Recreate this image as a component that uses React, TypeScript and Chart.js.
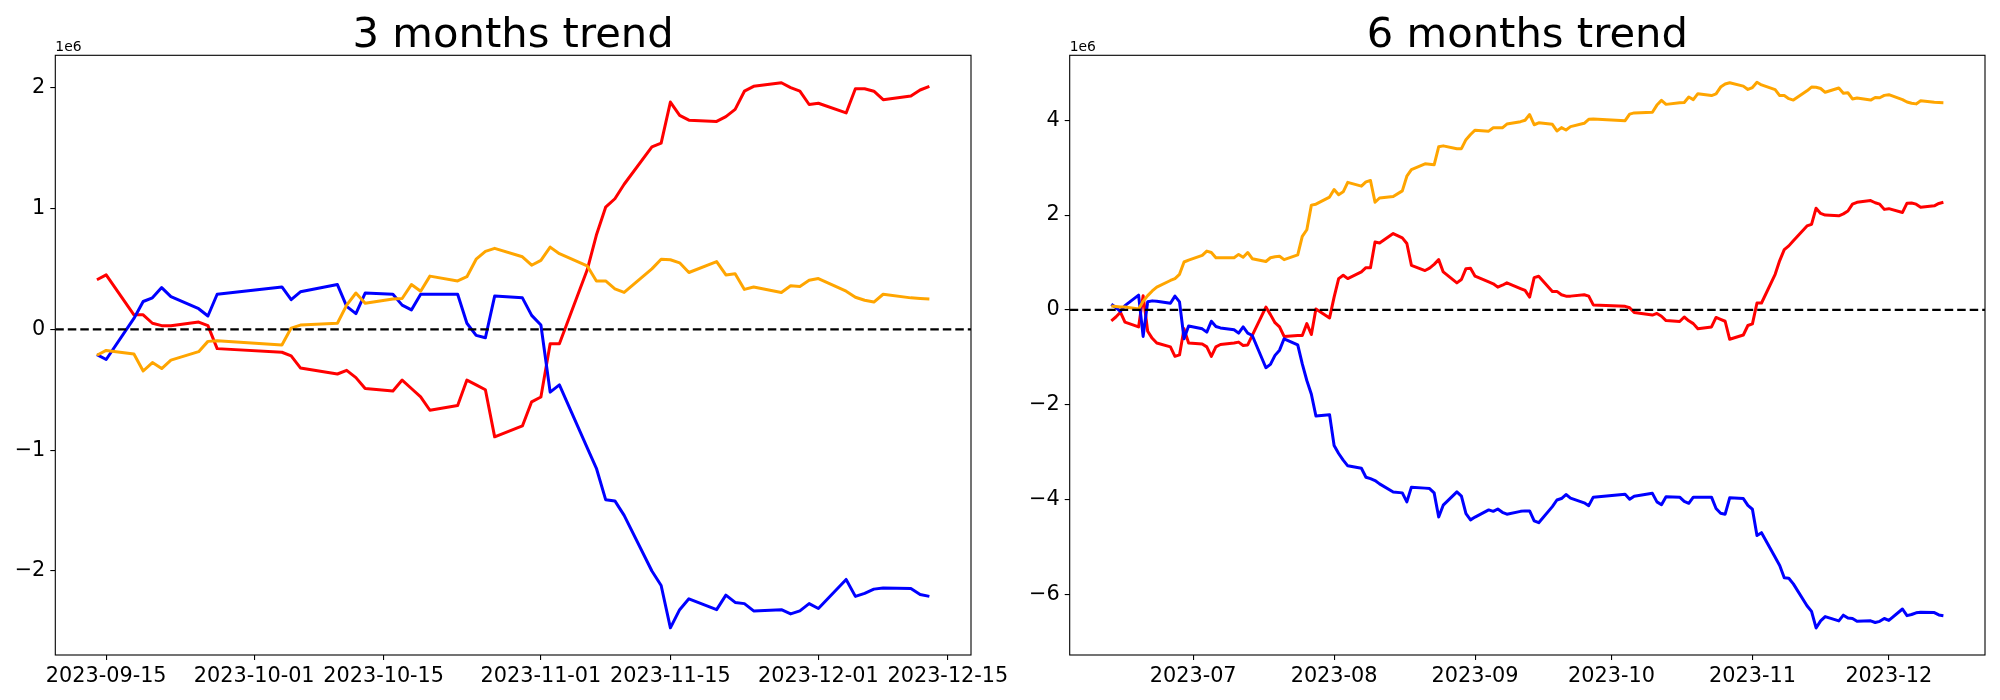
import React, { useEffect, useRef } from 'react';
import { Chart, registerables } from 'chart.js';

Chart.register(...registerables);

const FONT = "'DejaVu Sans', Verdana, sans-serif";

// ---------- 3 months (Korean trading days) ----------
const DATES_3M = [
  '2023-09-14','2023-09-15','2023-09-18','2023-09-19','2023-09-20','2023-09-21','2023-09-22','2023-09-25','2023-09-26','2023-09-27',
  '2023-10-04','2023-10-05','2023-10-06','2023-10-10','2023-10-11','2023-10-12','2023-10-13','2023-10-16','2023-10-17','2023-10-18',
  '2023-10-19','2023-10-20','2023-10-23','2023-10-24','2023-10-25','2023-10-26','2023-10-27','2023-10-30','2023-10-31',
  '2023-11-01','2023-11-02','2023-11-03','2023-11-06','2023-11-07','2023-11-08','2023-11-09','2023-11-10','2023-11-13','2023-11-14',
  '2023-11-15','2023-11-16','2023-11-17','2023-11-20','2023-11-21','2023-11-22','2023-11-23','2023-11-24','2023-11-27','2023-11-28',
  '2023-11-29','2023-11-30',
  '2023-12-01','2023-12-04','2023-12-05','2023-12-06','2023-12-07','2023-12-08','2023-12-11','2023-12-12','2023-12-13',
];

// values in units of 1e6
const RED_3M = [
  0.41, 0.45, 0.12, 0.12, 0.05, 0.03, 0.03, 0.06, 0.03, -0.16,
  -0.19, -0.22, -0.32, -0.37, -0.34, -0.40, -0.49, -0.51, -0.42, -0.49,
  -0.56, -0.67, -0.63, -0.42, -0.46, -0.50, -0.89, -0.80, -0.60,
  -0.56, -0.12, -0.12, 0.49, 0.78, 1.01, 1.08, 1.20, 1.51, 1.54,
  1.88, 1.77, 1.73, 1.72, 1.76, 1.82, 1.97, 2.01, 2.04, 2.00,
  1.97, 1.86,
  1.87, 1.79, 1.99, 1.99, 1.97, 1.90, 1.93, 1.98, 2.01,
];

const BLUE_3M = [
  -0.21, -0.25, 0.09, 0.23, 0.26, 0.345, 0.27, 0.17, 0.11, 0.29,
  0.35, 0.245, 0.31, 0.37, 0.19, 0.13, 0.30, 0.29, 0.20, 0.16,
  0.29, 0.29, 0.29, 0.05, -0.05, -0.07, 0.275, 0.26, 0.115,
  0.035, -0.52, -0.46, -0.98, -1.15, -1.41, -1.42, -1.54, -2.00, -2.12,
  -2.47, -2.32, -2.23, -2.32, -2.20, -2.26, -2.27, -2.33, -2.32, -2.355,
  -2.33, -2.27,
  -2.31, -2.07, -2.21, -2.185, -2.15, -2.14, -2.145, -2.195, -2.21,
];

const ORANGE_3M = [
  -0.215, -0.175, -0.205, -0.345, -0.275, -0.325, -0.255, -0.185, -0.10, -0.095,
  -0.13, 0.01, 0.035, 0.05, 0.20, 0.30, 0.215, 0.25, 0.255, 0.37,
  0.315, 0.44, 0.40, 0.435, 0.58, 0.645, 0.67, 0.60, 0.53,
  0.57, 0.68, 0.625, 0.525, 0.40, 0.40, 0.335, 0.305, 0.50, 0.58,
  0.575, 0.55, 0.47, 0.56, 0.45, 0.46, 0.33, 0.35, 0.305, 0.36,
  0.355, 0.405,
  0.42, 0.315, 0.265, 0.24, 0.225, 0.29, 0.26, 0.255, 0.25,
];

// ---------- 6 months ----------
const DATES_JUN_SEP = [
  '2023-06-13','2023-06-14','2023-06-15','2023-06-16','2023-06-19','2023-06-20','2023-06-21','2023-06-22','2023-06-23',
  '2023-06-26','2023-06-27','2023-06-28','2023-06-29','2023-06-30',
  '2023-07-03','2023-07-04','2023-07-05','2023-07-06','2023-07-07','2023-07-10','2023-07-11','2023-07-12','2023-07-13',
  '2023-07-14','2023-07-17','2023-07-18','2023-07-19','2023-07-20','2023-07-21','2023-07-24','2023-07-25','2023-07-26',
  '2023-07-27','2023-07-28','2023-07-31',
  '2023-08-01','2023-08-02','2023-08-03','2023-08-04','2023-08-07','2023-08-08','2023-08-09','2023-08-10','2023-08-11',
  '2023-08-14','2023-08-16','2023-08-17','2023-08-18','2023-08-21','2023-08-22','2023-08-23','2023-08-24','2023-08-25',
  '2023-08-28','2023-08-29','2023-08-30','2023-08-31',
  '2023-09-01','2023-09-04','2023-09-05','2023-09-06','2023-09-07','2023-09-08','2023-09-11','2023-09-12','2023-09-13',
];
const DATES_6M = [...DATES_JUN_SEP, ...DATES_3M];

const RED_6M = [
  -0.23, -0.15, -0.05, -0.26, -0.36, 0.30, -0.45, -0.60, -0.70, -0.78, -0.98, -0.95, -0.40, -0.70,
  -0.72, -0.78, -0.98, -0.78, -0.73, -0.70, -0.68, -0.75, -0.74, -0.54, 0.06, -0.10, -0.27, -0.36, -0.56,
  -0.54, -0.54, -0.29, -0.52, 0.02, -0.17,
  0.27, 0.66, 0.73, 0.66, 0.80, 0.89, 0.89, 1.43, 1.41, 1.61, 1.52, 1.40, 0.94, 0.83, 0.88, 0.96, 1.06, 0.80,
  0.57, 0.64, 0.87, 0.88,
  0.71, 0.59, 0.55, 0.48, 0.52, 0.57, 0.45, 0.41, 0.27,
  0.68, 0.71, 0.39, 0.39, 0.32, 0.29, 0.29, 0.32, 0.29, 0.105,
  0.075, 0.045, -0.055, -0.11, -0.075, -0.135, -0.225, -0.245, -0.15, -0.23,
  -0.29, -0.40, -0.36, -0.16, -0.20, -0.24, -0.62, -0.53, -0.33,
  -0.295, 0.145, 0.145, 0.75, 1.04, 1.27, 1.35, 1.46, 1.77, 1.805,
  2.145, 2.035, 2.00, 1.985, 2.025, 2.085, 2.23, 2.27, 2.305, 2.26,
  2.23, 2.12,
  2.135, 2.055, 2.25, 2.255, 2.23, 2.165, 2.195, 2.245, 2.27,
];

const BLUE_6M = [
  0.12, 0.05, -0.03, 0.09, 0.31, -0.56, 0.17, 0.19, 0.18, 0.14, 0.29, 0.17, -0.61, -0.34,
  -0.40, -0.47, -0.24, -0.35, -0.38, -0.42, -0.49, -0.36, -0.49, -0.54, -1.22, -1.15, -0.96, -0.85, -0.61,
  -0.74, -1.14, -1.49, -1.78, -2.24, -2.21,
  -2.86, -3.03, -3.17, -3.29, -3.34, -3.53, -3.56, -3.60, -3.67, -3.84, -3.86, -4.05, -3.74, -3.76, -3.77, -3.86,
  -4.37, -4.12, -3.84, -3.93, -4.30, -4.43,
  -4.37, -4.22, -4.25, -4.20, -4.27, -4.31, -4.25, -4.24, -4.24,
  -4.45, -4.49, -4.15, -4.01, -3.98, -3.895, -3.97, -4.07, -4.13, -3.95,
  -3.89, -3.995, -3.93, -3.87, -4.05, -4.11, -3.94, -3.95, -4.04, -4.08,
  -3.95, -3.95, -3.95, -4.19, -4.29, -4.31, -3.965, -3.98, -4.125,
  -4.205, -4.76, -4.70, -5.22, -5.39, -5.65, -5.66, -5.78, -6.24, -6.36,
  -6.71, -6.56, -6.47, -6.56, -6.44, -6.50, -6.51, -6.57, -6.56, -6.595,
  -6.57, -6.51,
  -6.55, -6.31, -6.45, -6.425, -6.39, -6.38, -6.385, -6.435, -6.45,
];

const ORANGE_6M = [
  0.08, 0.07, 0.06, 0.06, 0.02, 0.18, 0.30, 0.40, 0.48, 0.62, 0.66, 0.75, 1.01, 1.05,
  1.15, 1.24, 1.21, 1.10, 1.10, 1.10, 1.17, 1.11, 1.21, 1.08, 1.02, 1.10, 1.12, 1.13, 1.06,
  1.16, 1.55, 1.69, 2.21, 2.23, 2.38,
  2.54, 2.43, 2.49, 2.69, 2.61, 2.70, 2.73, 2.27, 2.36, 2.39, 2.51, 2.82, 2.96, 3.08, 3.07, 3.06,
  3.44, 3.46, 3.40, 3.40, 3.59, 3.70,
  3.79, 3.77, 3.84, 3.84, 3.84, 3.92, 3.97, 4.00, 4.12,
  3.905, 3.945, 3.915, 3.775, 3.845, 3.795, 3.865, 3.935, 4.02, 4.025,
  3.99, 4.13, 4.155, 4.17, 4.32, 4.42, 4.335, 4.37, 4.375, 4.49,
  4.435, 4.56, 4.52, 4.555, 4.70, 4.765, 4.79, 4.72, 4.65,
  4.69, 4.80, 4.745, 4.645, 4.52, 4.52, 4.455, 4.425, 4.62, 4.70,
  4.695, 4.67, 4.59, 4.68, 4.57, 4.58, 4.45, 4.47, 4.425, 4.48,
  4.475, 4.525,
  4.54, 4.435, 4.385, 4.36, 4.345, 4.41, 4.38, 4.375, 4.37,
];

// ---------- ticks ----------
const X_TICKS_3M = ['2023-09-15', '2023-10-01', '2023-10-15', '2023-11-01', '2023-11-15', '2023-12-01', '2023-12-15'];
const X_TICK_LABELS_3M = ['2023-09-15', '2023-10-01', '2023-10-15', '2023-11-01', '2023-11-15', '2023-12-01', '2023-12-15'];
const X_TICKS_6M = ['2023-07-01', '2023-08-01', '2023-09-01', '2023-10-01', '2023-11-01', '2023-12-01'];
const X_TICK_LABELS_6M = ['2023-07', '2023-08', '2023-09', '2023-10', '2023-11', '2023-12'];
const Y_TICKS_3M = [-2, -1, 0, 1, 2];
const Y_TICKS_6M = [-6, -4, -2, 0, 2, 4];

function dayNum(s: string): number {
  const [y, m, d] = s.split('-').map(Number);
  return Date.UTC(y, m - 1, d) / 86400000;
}

const decorPlugin = {
  id: 'decor',
  afterDatasetsDraw(chart: any, _args: any, opts: any) {
    const { ctx, chartArea: a, scales } = chart;
    const y0 = scales.y.getPixelForValue(0);
    ctx.save();
    ctx.beginPath();
    ctx.rect(a.left, a.top, a.right - a.left, a.bottom - a.top);
    ctx.clip();
    ctx.setLineDash([8.5, 4]);
    ctx.lineWidth = 2.2;
    ctx.strokeStyle = '#000000';
    ctx.beginPath();
    ctx.moveTo(a.left, y0);
    ctx.lineTo(a.right, y0);
    ctx.stroke();
    ctx.restore();
  },
  afterDraw(chart: any, _args: any, opts: any) {
    const { ctx, chartArea: a } = chart;
    ctx.save();
    ctx.lineWidth = 1.1;
    ctx.strokeStyle = '#000000';
    ctx.setLineDash([]);
    ctx.strokeRect(a.left, a.top, a.right - a.left, a.bottom - a.top);
    ctx.fillStyle = '#000000';
    ctx.font = `41.7px ${FONT}`;
    ctx.textAlign = 'center';
    ctx.textBaseline = 'alphabetic';
    ctx.fillText(opts.title, (a.left + a.right) / 2, a.top - 8.5);
    ctx.font = `13.9px ${FONT}`;
    ctx.textAlign = 'left';
    ctx.fillText(opts.offsetText, a.left, a.top - 4.3);
    ctx.restore();
  },
};

type PanelProps = {
  dates: string[];
  red: number[];
  blue: number[];
  orange: number[];
  xTicks: string[];
  xTickLabels: string[];
  yTicks: number[];
  yMin: number;
  yMax: number;
  marginDays: number;
  title: string;
  left: number;
  width: number;
  yAxisWidth: number;
  padRight: number;
};

function Panel(p: PanelProps) {
  const ref = useRef<HTMLCanvasElement>(null);
  useEffect(() => {
    if (!ref.current) return;
    const xs = p.dates.map(dayNum);
    const xMin = xs[0] - p.marginDays;
    const xMax = xs[xs.length - 1] + p.marginDays;
    const xTickVals = p.xTicks.map(dayNum);
    const labelFor = (v: number) => {
      const i = xTickVals.findIndex((t) => Math.abs(t - v) < 1e-6);
      return i >= 0 ? p.xTickLabels[i] : '';
    };
    const mk = (vals: number[], color: string, order: number) => ({
      data: vals.map((v, i) => ({ x: xs[i], y: v })),
      borderColor: color,
      backgroundColor: color,
      borderWidth: 3,
      pointRadius: 0,
      pointHoverRadius: 0,
      tension: 0,
      fill: false,
      order,
      borderJoinStyle: 'round',
      borderCapStyle: 'butt',
    });
    const gridOpts = {
      display: true,
      drawOnChartArea: false,
      drawTicks: true,
      tickLength: 5,
      color: '#000000',
      lineWidth: 1.1,
    };
    const chart = new Chart(ref.current, {
      type: 'line',
      data: {
        datasets: [
          mk(p.red, '#ff0000', 3),
          mk(p.blue, '#0000ff', 2),
          mk(p.orange, '#ffa500', 1),
        ] as any,
      },
      options: {
        responsive: false,
        animation: false,
        devicePixelRatio: 1,
        events: [],
        layout: { padding: { top: 55.3, left: 0, right: p.padRight, bottom: 0 } },
        plugins: {
          legend: { display: false },
          tooltip: { enabled: false },
          decor: { title: p.title, offsetText: '1e6' },
        } as any,
        scales: {
          x: {
            type: 'linear',
            min: xMin,
            max: xMax,
            afterBuildTicks: (s: any) => {
              s.ticks = xTickVals.map((v) => ({ value: v }));
            },
            afterFit: (s: any) => {
              s.height = 45;
            },
            ticks: {
              autoSkip: false,
              maxRotation: 0,
              minRotation: 0,
              padding: 4,
              color: '#000000',
              font: { family: FONT, size: 20.8 },
              callback: (v: any) => labelFor(Number(v)),
            },
            grid: gridOpts,
            border: { display: false },
          },
          y: {
            type: 'linear',
            min: p.yMin,
            max: p.yMax,
            afterBuildTicks: (s: any) => {
              s.ticks = p.yTicks.map((v) => ({ value: v }));
            },
            afterFit: (s: any) => {
              s.width = p.yAxisWidth;
            },
            ticks: {
              padding: 5,
              color: '#000000',
              font: { family: FONT, size: 20.8 },
              callback: (v: any) => {
                const n = Number(v);
                return n < 0 ? '\u2212' + Math.abs(n) : String(n);
              },
            },
            grid: gridOpts,
            border: { display: false },
          },
        } as any,
      },
      plugins: [decorPlugin as any],
    });
    return () => chart.destroy();
  }, []);
  return (
    <canvas
      ref={ref}
      width={p.width}
      height={700}
      style={{ position: 'absolute', left: p.left, top: 0, width: p.width, height: 700 }}
    />
  );
}

export default function App() {
  return (
    <div style={{ position: 'absolute', left: 0, top: 0, width: 2000, height: 700, background: '#ffffff' }}>
      <Panel
        dates={DATES_3M}
        red={RED_3M}
        blue={BLUE_3M}
        orange={ORANGE_3M}
        xTicks={X_TICKS_3M}
        xTickLabels={X_TICK_LABELS_3M}
        yTicks={Y_TICKS_3M}
        yMin={-2.695}
        yMax={2.267}
        marginDays={4.5}
        title="3 months trend"
        left={0}
        width={1060}
        yAxisWidth={55.3}
        padRight={89}
      />
      <Panel
        dates={DATES_6M}
        red={RED_6M}
        blue={BLUE_6M}
        orange={ORANGE_6M}
        xTicks={X_TICKS_6M}
        xTickLabels={X_TICK_LABELS_6M}
        yTicks={Y_TICKS_6M}
        yMin={-7.28}
        yMax={5.37}
        marginDays={9.15}
        title="6 months trend"
        left={1000}
        width={1000}
        yAxisWidth={69.7}
        padRight={15}
      />
    </div>
  );
}
